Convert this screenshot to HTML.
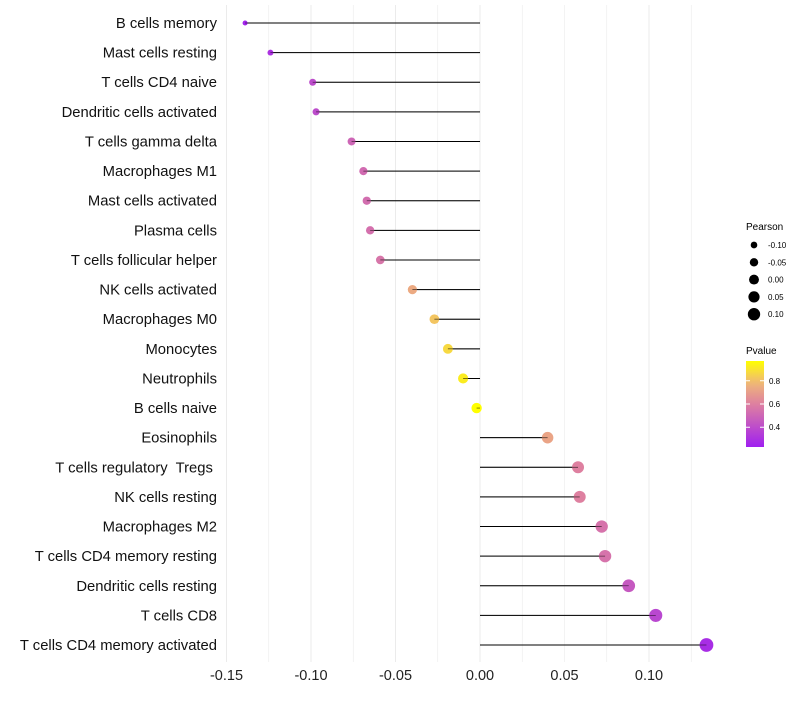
<!DOCTYPE html><html><head><meta charset="utf-8"><style>body{margin:0;background:#fff;font-family:"Liberation Sans",sans-serif}text{white-space:pre}</style></head><body>
<svg id="c" width="800" height="700"></svg>
<script>
const categories=["B cells memory","Mast cells resting","T cells CD4 naive","Dendritic cells activated","T cells gamma delta","Macrophages M1","Mast cells activated","Plasma cells","T cells follicular helper","NK cells activated","Macrophages M0","Monocytes","Neutrophils","B cells naive","Eosinophils","T cells regulatory  Tregs ","NK cells resting","Macrophages M2","T cells CD4 memory resting","Dendritic cells resting","T cells CD8","T cells CD4 memory activated"];
const pearson=[-0.139,-0.124,-0.099,-0.097,-0.076,-0.069,-0.067,-0.065,-0.059,-0.040,-0.027,-0.019,-0.010,-0.002,0.040,0.058,0.059,0.072,0.074,0.088,0.104,0.134];
const pvalue=[0.25,0.30,0.40,0.40,0.50,0.52,0.53,0.54,0.56,0.74,0.82,0.87,0.92,0.97,0.72,0.60,0.60,0.55,0.55,0.45,0.38,0.28];
const xTicks=[-0.15,-0.10,-0.05,0.00,0.05,0.10];
const xTickLabels=["-0.15","-0.10","-0.05","0.00","0.05","0.10"];
const sizeLegend=[-0.10,-0.05,0.00,0.05,0.10];
const pLegend=[0.8,0.6,0.4];
const NS="http://www.w3.org/2000/svg",svg=document.getElementById('c');
function el(t,a,p){const e=document.createElementNS(NS,t);for(const k in a)e.setAttribute(k,a[k]);(p||svg).appendChild(e);return e;}
const X=v=>480+v*1690, Y=i=>23+i*29.62;
const R=v=>Math.sqrt(Math.max(2.5,27.25+150*v));
function col(p){const t=Math.max(0,Math.min(1,(p-0.23)/0.74));
 const s=[[0,[160,32,240]],[0.5,[222,128,160]],[0.75,[240,184,120]],[1,[255,255,0]]];
 for(let i=1;i<s.length;i++)if(t<=s[i][0]){const u=(t-s[i-1][0])/(s[i][0]-s[i-1][0]);const a=s[i-1][1],b=s[i][1];return`rgb(${a.map((c,j)=>Math.round(c+(b[j]-c)*u)).join(',')})`;}
 return'rgb(255,255,0)';}
for(let v=-0.15;v<=0.136;v+=0.025){const g=el('line',{x1:X(v),x2:X(v),y1:5,y2:662,stroke:'#ebebeb','stroke-width':Math.abs((v*40)%2)<0.01?1:0.6});}
xTicks.forEach((v,i)=>{const t=el('text',{x:X(v),y:680,'text-anchor':'middle','font-size':14.5,fill:'#222'});t.textContent=xTickLabels[i];});
categories.forEach((c,i)=>{
 const t=el('text',{x:217,y:Y(i)+5,'text-anchor':'end','font-size':14.8,fill:'#111'});t.textContent=c;
 const l=el('line',{x1:X(0),x2:X(pearson[i]),y1:Y(i),y2:Y(i),stroke:'#000','stroke-width':1});
 const d=el('circle',{cx:X(pearson[i]),cy:Y(i),r:R(pearson[i]),fill:col(pvalue[i])});
 const l2=el('line',{x1:X(0),x2:X(pearson[i]),y1:Y(i),y2:Y(i),stroke:'#000','stroke-width':0.8,'stroke-opacity':0.6});
});
let t=el('text',{x:746,y:230,'font-size':10});t.textContent='Pearson';
sizeLegend.forEach((v,i)=>{const y=245+i*17.3;const c=el('circle',{cx:754,cy:y,r:R(v)*0.95,fill:'#000'});
 const s=el('text',{x:768,y:y+3,'font-size':8});s.textContent=v.toFixed(2);});
t=el('text',{x:746,y:354,'font-size':10});t.textContent='Pvalue';
const defs=el('defs',{});const g=el('linearGradient',{id:'pg',x1:0,y1:1,x2:0,y2:0},defs);
for(let k=0;k<=10;k++)el('stop',{offset:k/10,'stop-color':col(0.23+0.74*k/10)},g);
const bar=el('rect',{x:746,y:361,width:18,height:86,fill:'url(#pg)'});
pLegend.forEach(p=>{const y=447-(p-0.23)/0.74*86;el('line',{x1:746,x2:750,y1:y,y2:y,stroke:'#fff'});el('line',{x1:760,x2:764,y1:y,y2:y,stroke:'#fff'});
 const s=el('text',{x:769,y:y+3,'font-size':8});s.textContent=p.toFixed(1);});
</script></body></html>
